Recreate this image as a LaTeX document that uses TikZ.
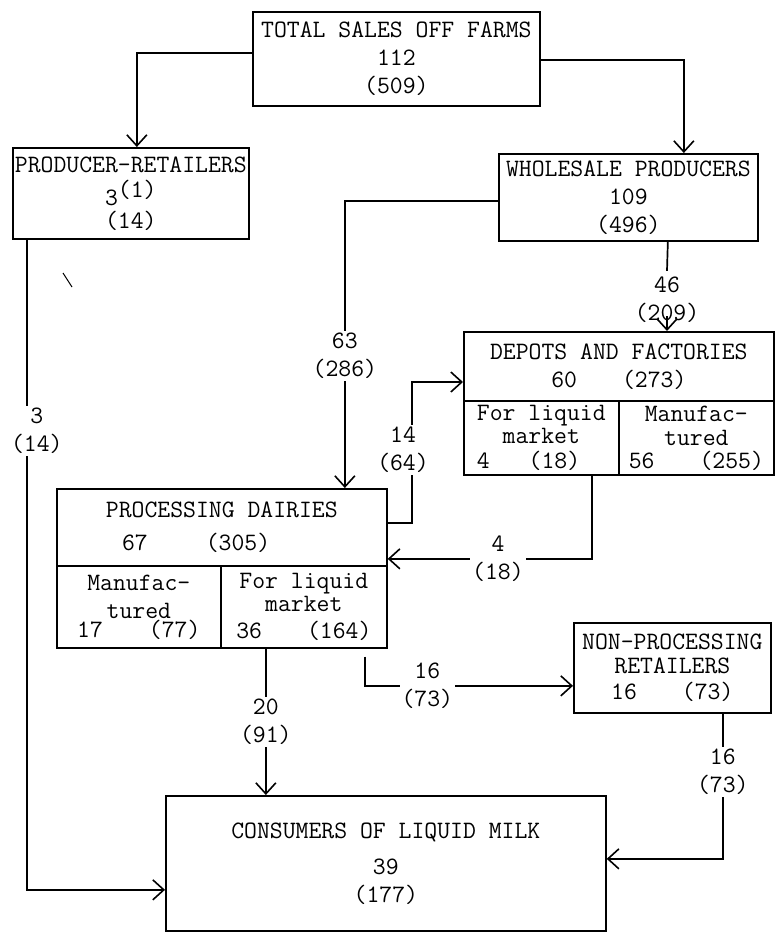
\documentclass[tikz,border=0pt]{standalone}
\usetikzlibrary{arrows.meta}

\newcommand{\chartfont}{\ttfamily\fontsize{25}{28}\selectfont}
\tikzset{
  chartbox/.style={draw, line width=1.7pt, anchor=north west, inner sep=1pt,
    align=center, font=\chartfont},
  flowlbl/.style={fill=white, inner sep=2pt, align=center, font=\chartfont},
  plainflow/.style={line width=1.7pt},
  flow/.style={plainflow, -{Straight Barb[length=11pt,width=20pt,line width=1.6pt]}},
}

\begin{document}
\begin{tikzpicture}[x=1pt, y=-1pt]
\useasboundingbox (0,0) rectangle (774,932);

% Boxes
\node[chartbox, minimum width=287pt, minimum height=94pt] (total) at (252,11)
  {TOTAL SALES OFF FARMS\\112\\(509)};
\node[chartbox, minimum width=236pt, minimum height=91pt] (prodret) at (12,147)
  {PRODUCER-RETAILERS\\[5pt]3\smash{\raisebox{8pt}{(1)}}\\[-5pt](14)};
\node[chartbox, minimum width=259pt, minimum height=87pt] (whole) at (498,153)
  {WHOLESALE PRODUCERS\\109\\(496)};

\node[chartbox, minimum width=310pt, minimum height=69pt] (depots) at (463,331)
  {DEPOTS AND FACTORIES\\60\hspace{45pt}(273)};
\node[chartbox, minimum width=155pt, minimum height=74pt] (depliq) at (463,400)
  {For liquid\\[-5pt]market\\[-3pt]4\hspace{39pt}(18)\hphantom{00}};
\node[chartbox, minimum width=155pt, minimum height=74pt] (depman) at (618,400)
  {Manufac-\\[-4pt]tured\\[-5pt]56\hspace{45pt}(255)};

\node[chartbox, minimum width=330pt, minimum height=77pt] (proc) at (56,488)
  {PROCESSING DAIRIES\\[5pt]67\hspace{58pt}(305)\hphantom{0000}};
\node[chartbox, minimum width=164pt, minimum height=82pt] (procman) at (56,565)
  {Manufac-\\tured\\[-9pt]17\hspace{46pt}(77)};
\node[chartbox, minimum width=166pt, minimum height=82pt] (procliq) at (220,565)
  {For liquid\\[-5pt]market\\[-1pt]36\hspace{45pt}(164)};

\node[chartbox, minimum width=197pt, minimum height=90pt] (nonproc) at (573,622)
  {NON-PROCESSING\\[-4pt]RETAILERS\\[-2pt]16\hspace{45pt}(73)\hspace{20pt}};
\node[chartbox, minimum width=440pt, minimum height=135pt] (cons) at (165,795)
  {CONSUMERS OF LIQUID MILK\\[8pt]39\\(177)};

% Flows
\draw[flow] ([yshift=6pt]total.west) -| ([xshift=6pt]prodret.north);
\draw[flow] ([yshift=-1pt]total.east) -| ([xshift=55.5pt]whole.north);
\draw[flow] ([yshift=-3.5pt]whole.west) -| node[flowlbl, pos=0.77] (lbl63) {63\\(286)}
  ([xshift=123pt]proc.north);

\node[flowlbl, fill=none] (lbl46) at (667,300) {46\\(209)};
\draw[plainflow] ([xshift=39.5pt]whole.south) -- ([yshift=4pt]lbl46.north);
\coordinate (tip46) at (667,316);
\draw[flow] (tip46) -- (tip46 |- depots.north);

\coordinate (bend14) at (412,382);
\draw[flow] ([yshift=4.5pt]proc.east) -| (bend14) -- (bend14 -| depots.west);
\node[flowlbl] (lbl14) at (403,450) {14\\(64)};

\draw[flow] ([xshift=50.5pt]depliq.south) |- node[flowlbl, pos=0.73] (lbl4) {4\\(18)}
  ([yshift=-31.5pt]proc.east);

\draw[flow] ([xshift=-38pt]procliq.south) -- node[flowlbl] (lbl20) {20\\(91)}
  ([xshift=-38pt]procliq.south |- cons.north);
\draw[flow] ([xshift=61pt,yshift=-8pt]procliq.south) |- node[flowlbl, pos=0.65] (lbl16a) {16\\(73)}
  ([yshift=-18pt]nonproc.west);
\draw[flow] ([xshift=50.5pt]nonproc.south) |- node[flowlbl, pos=0.2] (lbl16b) {16\\(73)}
  ([yshift=4.5pt]cons.east);
\draw[flow] ([xshift=-104pt]prodret.south) |- node[flowlbl, pos=0.147, xshift=10pt] (lbl3) {3\\(14)}
  ([yshift=-26.5pt]cons.west);

% stray tick
\draw[line width=1pt] (63,273) -- (72,287);
\end{tikzpicture}
\end{document}
